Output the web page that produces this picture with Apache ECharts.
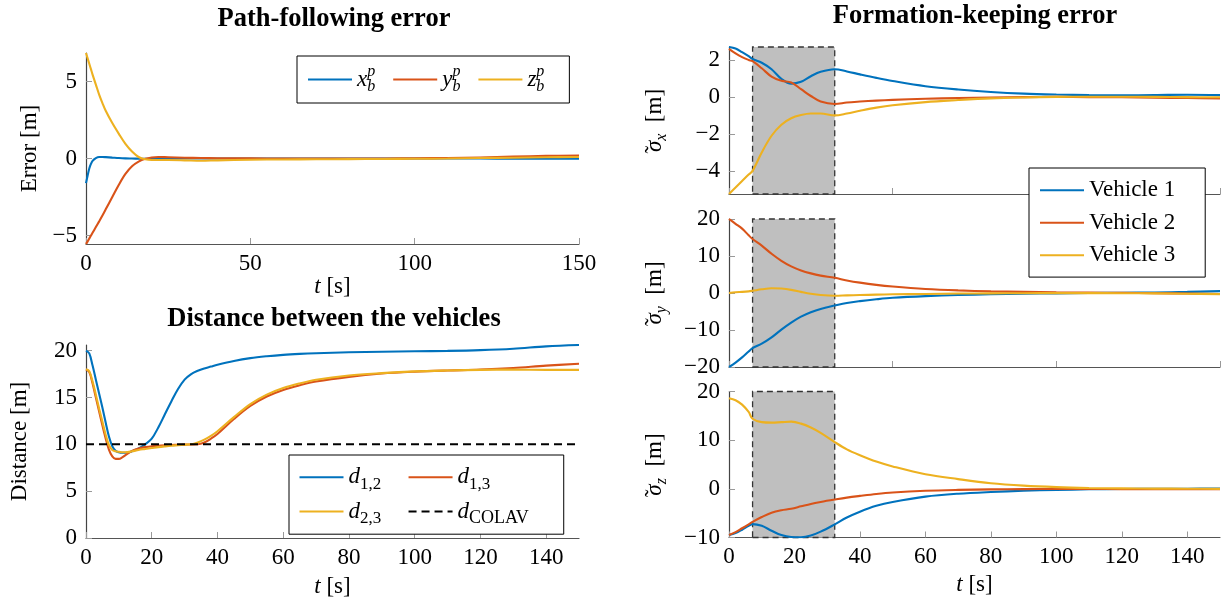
<!DOCTYPE html>
<html><head><meta charset="utf-8">
<script src="https://cdn.jsdelivr.net/npm/echarts@6/dist/echarts.min.js"></script>
<style>html,body{margin:0;padding:0;background:#fff}#c{width:1230px;height:604px}</style>
</head><body><div id="c"></div>
<script>
// ---------------- data ----------------
const tPath = [0,0.5,1,1.5,2,3,4,5,6,8,10,12,14,16,18,20,22,25,30,35,40,50,60,70,80,90,100,110,120,130,140,150];
const pathX = [-1.6,-1.1,-0.65,-0.35,-0.15,0.03,0.1,0.1,0.09,0.06,0.03,0.01,0,-0.01,-0.02,-0.02,-0.02,-0.01,0,0,0,0,0,0,0,0,0,0,0,-0.01,-0.01,-0.02];
const pathY = [-5.55,-5.38,-5.2,-5.0,-4.82,-4.45,-4.08,-3.7,-3.3,-2.5,-1.7,-1.0,-0.5,-0.2,-0.02,0.07,0.1,0.08,0.05,0.03,0.02,0.01,0,0,0,0,0.02,0.03,0.07,0.12,0.17,0.2];
const pathZ = [6.85,6.5,6.15,5.8,5.45,4.8,4.15,3.6,3.1,2.3,1.6,0.95,0.45,0.1,-0.05,-0.1,-0.1,-0.1,-0.12,-0.15,-0.12,-0.08,-0.06,-0.05,-0.04,-0.03,-0.02,0,0.03,0.05,0.08,0.1];

const tDist = [0,1,2,3,4,5,6,7,8,9,10,11,12,14,16,18,20,22,24,26,28,30,32,34,36,38,40,45,50,55,60,65,70,80,90,100,110,120,130,140,150];
const dist12 = [20,19.7,18.4,16.9,15.4,13.9,12.3,10.8,9.8,9.3,9.15,9.1,9.1,9.25,9.55,10.0,10.6,11.8,13.2,14.6,15.9,16.9,17.5,17.85,18.1,18.3,18.5,18.9,19.2,19.4,19.55,19.65,19.72,19.82,19.88,19.93,19.97,20.05,20.2,20.45,20.6];
const dist13 = [18,17.7,16.5,15.0,13.5,12.0,10.6,9.4,8.7,8.45,8.45,8.6,8.85,9.3,9.55,9.7,9.8,9.85,9.9,9.93,9.95,9.97,9.98,10.0,10.2,10.6,11.1,12.7,14.1,15.1,15.8,16.3,16.7,17.2,17.55,17.75,17.88,17.98,18.15,18.4,18.6];
const dist23 = [18,17.8,16.7,15.3,13.8,12.4,11.0,9.9,9.4,9.25,9.2,9.15,9.15,9.25,9.4,9.5,9.6,9.7,9.78,9.85,9.9,9.95,10.0,10.2,10.5,10.9,11.4,12.9,14.3,15.3,16.0,16.5,16.9,17.35,17.6,17.78,17.88,17.95,17.98,17.95,17.95];
const tColav = [0,150];
const dColav = [10,10];

const tForm = [0,2,4,6,7.2,10,13,16,19,22,25,28,32.3,36,40,45,50,60,70,80,90,100,110,120,130,140,150];
const sigX1 = [2.7,2.62,2.42,2.2,2.05,1.85,1.5,0.98,0.72,0.82,1.12,1.36,1.5,1.38,1.22,1.03,0.86,0.58,0.4,0.27,0.18,0.13,0.1,0.09,0.1,0.12,0.1];
const sigX2 = [2.6,2.35,2.15,2.0,1.93,1.55,1.1,0.87,0.78,0.42,0.05,-0.25,-0.38,-0.3,-0.25,-0.2,-0.16,-0.1,-0.06,-0.03,-0.01,0,-0.01,-0.02,-0.04,-0.06,-0.08];
const sigX3 = [-5.25,-4.9,-4.55,-4.2,-4.0,-3.0,-2.1,-1.5,-1.15,-0.98,-0.9,-0.9,-1.0,-0.9,-0.75,-0.58,-0.45,-0.28,-0.17,-0.08,-0.03,0,0.01,0.01,0,-0.01,-0.02];
const sigY1 = [-20,-18.8,-17.4,-15.8,-14.9,-13.7,-12,-9.9,-8.0,-6.4,-5.2,-4.3,-3.4,-2.7,-2.2,-1.7,-1.3,-0.85,-0.55,-0.35,-0.2,-0.1,0,0.05,0.15,0.3,0.5];
const sigY2 = [20,18.7,17.4,15.6,14.6,12.8,10.6,8.7,7.2,6.1,5.3,4.7,4.1,3.4,2.8,2.2,1.75,1.1,0.7,0.45,0.3,0.18,0.1,0.03,-0.05,-0.15,-0.25];
const sigY3 = [0,0.2,0.3,0.45,0.6,1.0,1.3,1.2,0.85,0.3,-0.2,-0.55,-0.75,-0.65,-0.55,-0.45,-0.35,-0.25,-0.15,-0.1,-0.05,-0.03,-0.03,-0.05,-0.1,-0.2,-0.3];
const sigZ1 = [-9.5,-9.1,-8.4,-7.6,-7.25,-7.6,-8.6,-9.5,-9.9,-9.95,-9.6,-8.8,-7.3,-5.9,-4.7,-3.5,-2.7,-1.6,-1.0,-0.65,-0.4,-0.22,-0.1,-0.02,0,0.03,0.05];
const sigZ2 = [-9.5,-8.9,-8.1,-7.3,-6.8,-5.8,-4.9,-4.4,-4.1,-3.6,-3.1,-2.7,-2.2,-1.8,-1.45,-1.05,-0.75,-0.4,-0.22,-0.12,-0.06,-0.03,-0.03,-0.05,-0.07,-0.1,-0.1];
const sigZ3 = [18.6,18.2,17.3,15.8,14.4,13.7,13.6,13.7,13.8,13.4,12.6,11.5,9.6,8.1,6.9,5.6,4.6,3.0,2.0,1.15,0.65,0.35,0.18,0.1,0.05,0.02,0];

const colavWindow = [7.2, 32.3];

const ticksT50 = [0,50,100,150];
const ticksT20 = [0,20,40,60,80,100,120,140];
const ticksErr = [-5,0,5];
const ticksDist = [0,5,10,15,20];
const ticksSx = [-4,-2,0,2];
const ticksSy = [-20,-10,0,10,20];
const ticksSz = [-10,0,10,20];

// ---------------- styling ----------------
const FONT = 'Liberation Serif';
const C1 = '#0072BD', C2 = '#D95319', C3 = '#EDB120';
const pairs = (t, v) => t.map((x, i) => [x, v[i]]);
const fmt = v => v < 0 ? '\u2212' + Math.abs(v) : String(v);

function makeRich(L) {
  return {
    i:   {fontFamily: FONT, fontStyle: 'italic', fontSize: 23, lineHeight: L, color: '#000'},
    r:   {fontFamily: FONT, fontSize: 23, lineHeight: L, color: '#000'},
    tl:  {fontFamily: FONT, fontSize: 23, lineHeight: L, width: 0, color: '#000'},
    sup: {fontFamily: FONT, fontStyle: 'italic', fontSize: 16, lineHeight: L, width: 0, padding: [0, 0, 15, 0], color: '#000'},
    sub: {fontFamily: FONT, fontStyle: 'italic', fontSize: 16, lineHeight: L, padding: [14, 0, 0, 0], color: '#000'},
    subr:{fontFamily: FONT, fontSize: 17, lineHeight: L, padding: [14, 0, 0, 0], color: '#000'},
    subc:{fontFamily: FONT, fontSize: 18, lineHeight: L, padding: [14, 0, 0, 0], color: '#000'},
    sp:  {fontFamily: FONT, fontSize: 10, lineHeight: L, width: 23}
  };
}
const rich30 = makeRich(30);

const labels = {
  xbp: '{i|x}{sup|p}{sub|b}',
  ybp: '{i|y}{sup|p}{sub|b}',
  zbp: '{i|z}{sup|p}{sub|b}',
  d12: '{i|d}{subr|1,2}{sp| }',
  d13: '{i|d}{subr|1,3}',
  d23: '{i|d}{subr|2,3}{sp| }',
  dcolav: '{i|d}{subc|COLAV}',
  'Vehicle 1': '{r|Vehicle 1}',
  'Vehicle 2': '{r|Vehicle 2}',
  'Vehicle 3': '{r|Vehicle 3}'
};
const TILDE = '{tl|\u2009\u02DC}';

function xAx(gi, ticks, showLabels, name, gap) {
  return {
    type: 'value', gridIndex: gi, min: 0, max: 150,
    axisLine: {show: true, onZero: false, lineStyle: {color: '#555', width: 1.2}},
    axisTick: {show: true, inside: true, length: 6, customValues: ticks, lineStyle: {color: '#999', width: 1}},
    axisLabel: {show: showLabels, customValues: ticks, margin: 8, fontFamily: FONT, fontSize: 23, color: '#000', formatter: fmt},
    splitLine: {show: false},
    name: name || '', nameLocation: 'middle', nameGap: gap || 30,
    nameTextStyle: {fontFamily: FONT, fontSize: 23, color: '#000', rich: rich30}
  };
}
function yAx(gi, min, max, ticks, name, gap) {
  return {
    type: 'value', gridIndex: gi, min: min, max: max,
    axisLine: {show: true, onZero: false, lineStyle: {color: '#444', width: 1.2}},
    axisTick: {show: true, inside: true, length: 6, customValues: ticks, lineStyle: {color: '#999', width: 1}},
    axisLabel: {customValues: ticks, margin: 9, fontFamily: FONT, fontSize: 23, color: '#000', formatter: fmt},
    splitLine: {show: false},
    name: name, nameLocation: 'middle', nameGap: gap, nameRotate: 90,
    nameTextStyle: {fontFamily: FONT, fontSize: 23, color: '#000', rich: rich30}
  };
}
function line(name, gi, t, v, color, extra) {
  return Object.assign({
    type: 'line', name: name, xAxisIndex: gi, yAxisIndex: gi,
    data: pairs(t, v), symbol: 'none', showSymbol: false,
    smooth: 0.35, z: 3,
    lineStyle: {color: color, width: 2.1}, itemStyle: {color: color}
  }, extra || {});
}
function shade(gi) {
  return {
    type: 'line', xAxisIndex: gi, yAxisIndex: gi, data: [], z: 1, silent: true,
    markArea: {
      silent: true,
      itemStyle: {color: '#bfbfbf', borderColor: '#333', borderWidth: 1.3, borderType: [6, 4]},
      data: [[{xAxis: colavWindow[0]}, {xAxis: colavWindow[1]}]]
    }
  };
}
function legendOf(L, extra) {
  return Object.assign({
    orient: 'horizontal', itemWidth: 44, itemHeight: 14, selectedMode: false,
    borderColor: '#000', borderWidth: 1, backgroundColor: '#fff',
    itemStyle: {opacity: 0},
    formatter: n => labels[n],
    textStyle: {fontFamily: FONT, fontSize: 23, lineHeight: L, color: '#000', rich: makeRich(L)}
  }, extra);
}

const titleStyle = {fontFamily: FONT, fontWeight: 'bold', fontSize: 26.5, color: '#000'};
const option = {
  animation: false,
  backgroundColor: '#fff',
  title: [
    {text: 'Path-following error', left: 329, top: 1, textAlign: 'center', textStyle: titleStyle},
    {text: 'Distance between the vehicles', left: 329, top: 301, textAlign: 'center', textStyle: titleStyle},
    {text: 'Formation-keeping error', left: 970, top: -2, textAlign: 'center', textStyle: titleStyle}
  ],
  grid: [
    {left: 86, top: 53, width: 493, height: 191},
    {left: 86, top: 345, width: 493, height: 193},
    {left: 729, top: 47, width: 491, height: 147},
    {left: 729, top: 219, width: 491, height: 148},
    {left: 729, top: 391.5, width: 491, height: 146}
  ],
  xAxis: [
    xAx(0, ticksT50, true, '{i|t} {r|[s]}', 26),
    xAx(1, ticksT20, true, '{i|t} {r|[s]}', 34),
    xAx(2, ticksT50, false),
    xAx(3, ticksT50, false),
    xAx(4, ticksT20, true, '{i|t} {r|[s]}', 32)
  ],
  yAxis: [
    yAx(0, -5.55, 6.85, ticksErr, 'Error [m]', 45),
    yAx(1, 0, 20.6, ticksDist, 'Distance [m]', 55),
    yAx(2, -5.25, 2.7, ticksSx, TILDE + '{i|\u03C3}{sub|x}  {r|[m]}', 59),
    yAx(3, -20, 20, ticksSy, TILDE + '{i|\u03C3}{sub|y}  {r|[m]}', 59),
    yAx(4, -10, 20, ticksSz, TILDE + '{i|\u03C3}{sub|z}  {r|[m]}', 59)
  ],
  legend: [
    legendOf(30, {data: ['xbp', 'ybp', 'zbp'], left: 297, top: 56, itemGap: 17, padding: [8, 25, 8, 10]}),
    legendOf(16, {data: ['d12', 'd13', 'd23', 'dcolav'], left: 289, top: 455, width: 250, itemGap: 3.3, padding: [6.7, 35, 6.7, 9.5]}),
    legendOf(24, {orient: 'vertical', data: ['Vehicle 1', 'Vehicle 2', 'Vehicle 3'], left: 1029, top: 168, itemGap: 8.5, padding: [10.3, 30, 9.8, 10]})
  ],
  series: [
    line('xbp', 0, tPath, pathX, C1),
    line('ybp', 0, tPath, pathY, C2),
    line('zbp', 0, tPath, pathZ, C3),
    line('d12', 1, tDist, dist12, C1),
    line('d13', 1, tDist, dist13, C2),
    line('d23', 1, tDist, dist23, C3),
    line('dcolav', 1, tColav, dColav, '#000', {smooth: false, z: 4, lineStyle: {color: '#000', width: 2, type: [8, 5]}}),
    shade(2), shade(3), shade(4),
    line('Vehicle 1', 2, tForm, sigX1, C1),
    line('Vehicle 2', 2, tForm, sigX2, C2),
    line('Vehicle 3', 2, tForm, sigX3, C3),
    line('Vehicle 1', 3, tForm, sigY1, C1),
    line('Vehicle 2', 3, tForm, sigY2, C2),
    line('Vehicle 3', 3, tForm, sigY3, C3),
    line('Vehicle 1', 4, tForm, sigZ1, C1),
    line('Vehicle 2', 4, tForm, sigZ2, C2),
    line('Vehicle 3', 4, tForm, sigZ3, C3)
  ]
};
const chart = echarts.init(document.getElementById('c'), null, {renderer: 'canvas'});
chart.setOption(option);
</script>
</body></html>
